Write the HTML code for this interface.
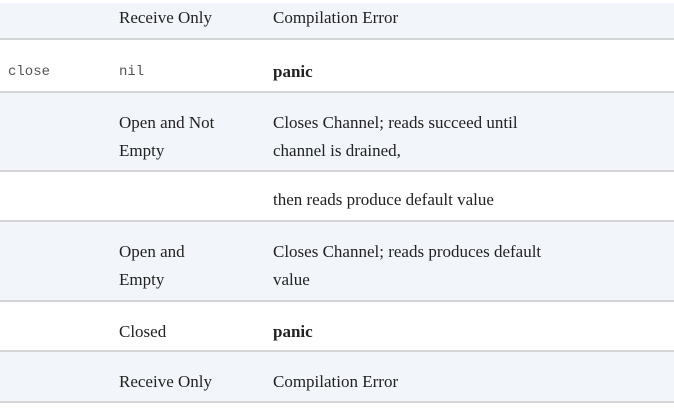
<!DOCTYPE html>
<html><head><style>
body{margin:0;width:674px;height:414px;background:#fff;position:relative;overflow:hidden;font-family:"Liberation Serif",serif;font-size:17px;color:#222}
.r{position:absolute;left:0;width:674px;border-bottom:2px solid #d4d4d4;box-sizing:border-box}
.s{background:#f2f5f9}
.t{position:absolute;line-height:28px;white-space:nowrap}
.m{font-family:"Liberation Mono",monospace;font-size:14px;color:#555}
b{font-weight:bold}
</style></head><body>
<div class="r s" style="top:3px;height:37px"></div>
<div class="r" style="top:40px;height:53px"></div>
<div class="r s" style="top:93px;height:79px"></div>
<div class="r" style="top:172px;height:50px"></div>
<div class="r s" style="top:222px;height:80px"></div>
<div class="r" style="top:302px;height:50px"></div>
<div class="r s" style="top:352px;height:51px"></div>

<div class="t" style="left:119px;top:4px">Receive Only</div>
<div class="t" style="left:273px;top:4px">Compilation Error</div>

<div class="t m" style="left:8px;top:58px">close</div>
<div class="t m" style="left:119px;top:58px">nil</div>
<div class="t" style="left:273px;top:58px"><b>panic</b></div>

<div class="t" style="left:119px;top:109px">Open and Not<br>Empty</div>
<div class="t" style="left:273px;top:109px">Closes Channel; reads succeed until<br>channel is drained,</div>

<div class="t" style="left:273px;top:186px">then reads produce default value</div>

<div class="t" style="left:119px;top:238px">Open and<br>Empty</div>
<div class="t" style="left:273px;top:238px">Closes Channel; reads produces default<br>value</div>

<div class="t" style="left:119px;top:318px">Closed</div>
<div class="t" style="left:273px;top:318px"><b>panic</b></div>

<div class="t" style="left:119px;top:368px">Receive Only</div>
<div class="t" style="left:273px;top:368px">Compilation Error</div>
</body></html>
